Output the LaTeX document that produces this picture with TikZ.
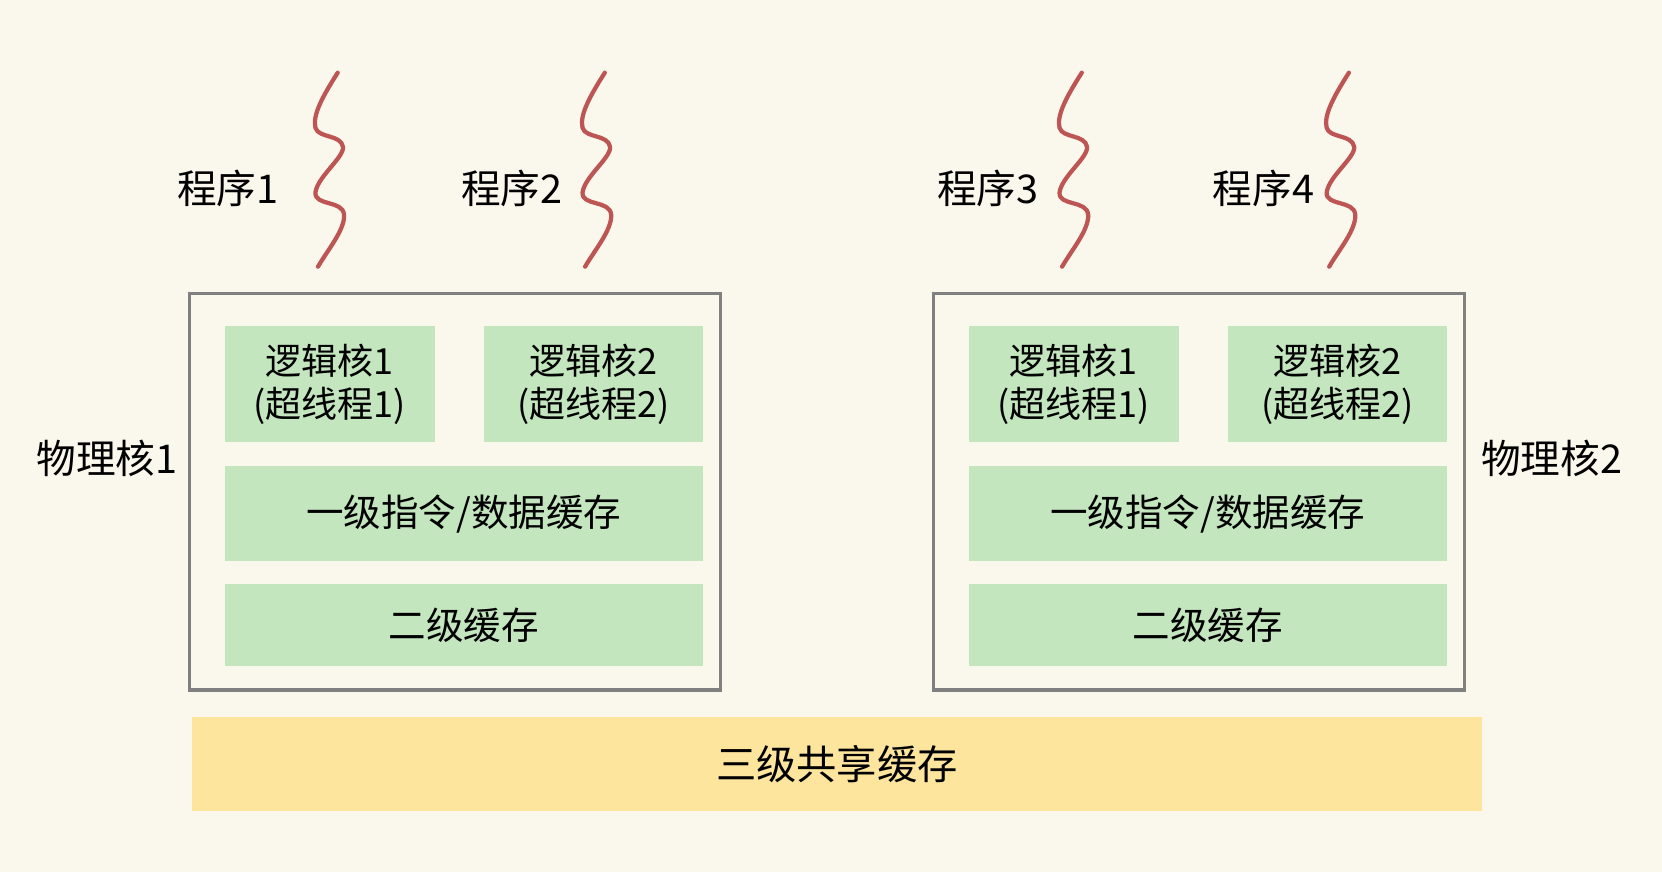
\documentclass[tikz,border=0pt]{standalone}
\usepackage{fontspec}
\setmainfont{Noto Sans CJK SC}
\definecolor{bgc}{RGB}{250,247,237}
\definecolor{greenc}{RGB}{195,230,190}
\definecolor{yellowc}{RGB}{253,229,158}
\definecolor{redc}{RGB}{190,85,85}
\definecolor{grayc}{RGB}{128,128,128}
\begin{document}
\begin{tikzpicture}[x=0.5pt,y=-0.5pt,
  greenbox/.style={fill=greenc,draw=none,inner sep=0pt,align=center,font=\fontsize{17}{20}\selectfont},
  cachebox/.style={greenbox,font=\fontsize{17.7}{20}\selectfont},
  corebox/.style={draw=grayc,line width=1.5pt,fill=none,minimum width=250.5pt,minimum height=187pt,inner sep=0pt},
  lbl/.style={inner sep=0pt,font=\fontsize{18.7}{22}\selectfont},
  wave/.style={draw=redc,line width=2pt,line cap=round,line join=round}
]
\fill[bgc] (0,0) rectangle (1568,823);
\useasboundingbox (0,0) rectangle (1568,823);
% physical cores
\foreach \i/\dx in {1/0,2/702}{
  \node[corebox] (core\i) at (429.5+\dx,464) {};
  \node[greenbox,minimum width=99pt,minimum height=54.5pt] (lca\i) at (311+\dx,362.5) {逻辑核1\\(超线程1)};
  \node[greenbox,minimum width=103pt,minimum height=54.5pt] (lcb\i) at (560+\dx,362.5) {逻辑核2\\(超线程2)};
  \node[cachebox,minimum width=225.5pt,minimum height=44.5pt] (lone\i) at (437.5+\dx,484.5) {一级指令/数据缓存};
  \node[cachebox,minimum width=225.5pt,minimum height=38.5pt] (ltwo\i) at (437.5+\dx,589.5) {二级缓存};
}
\node[lbl] (pc1) at (101,432) {物理核1};
\node[lbl] (pc2) at (1464,432) {物理核2};
% L3
\node[fill=yellowc,inner sep=0pt,minimum width=608.5pt,minimum height=44.5pt,font=\fontsize{19}{22}\selectfont] (lthree) at (789.5,720.5) {三级共享缓存};
% programs
\node[lbl] (p1) at (215,178) {程序1};
\node[lbl] (p2) at (483,178) {程序2};
\node[lbl] (p3) at (932,178) {程序3};
\node[lbl] (p4) at (1192,178) {程序4};
\foreach \wx in {318.6,570.6,1020.6,1272.6}{
  \begin{scope}[shift={(\wx,68.6)}]
  \draw[wave] (0,0) .. controls (-14,22) and (-24,40) .. (-21,52)
    .. controls (-18,62) and (3,58) .. (5,70)
    .. controls (6,80) and (-19,98) .. (-21,113)
    .. controls (-22,126) and (5,120) .. (6,134)
    .. controls (7,148) and (-10,168) .. (-18.6,183);
  \end{scope}
}
\end{tikzpicture}
\end{document}
